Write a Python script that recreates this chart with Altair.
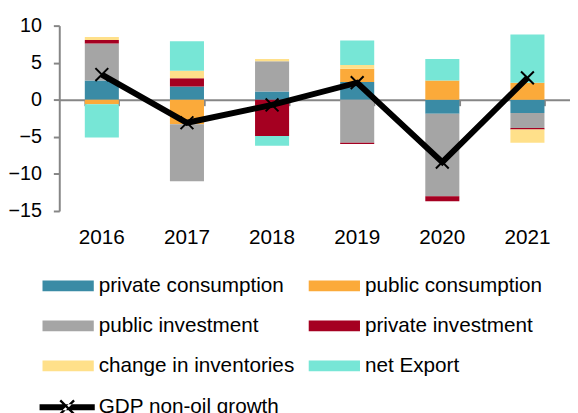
import altair as alt
import pandas as pd

years = ["2016", "2017", "2018", "2019", "2020", "2021"]
series_names = ["private consumption", "public consumption", "public investment",
                "private investment", "change in inventories", "net Export"]
private_consumption = [2.6, 1.8, 1.1, 2.4, -1.9, -1.8]
public_consumption = [-0.6, -3.3, 0.0, 1.8, 2.6, 2.3]
public_investment = [5.0, -7.7, 4.1, -5.8, -11.1, -2.0]
private_investment = [0.45, 1.1, -4.9, -0.15, -0.7, -0.2]
change_inventories = [0.4, 1.0, 0.3, 0.5, 0.0, -1.8]
net_export = [-4.5, 4.0, -1.3, 3.3, 2.9, 6.5]
gdp_growth = [3.4, -3.1, -0.7, 2.3, -8.4, 2.95]
colors = ["#3A8BA5", "#FBAA3A", "#A5A5A5", "#A50021", "#FFE08A", "#77E6D6"]

all_values = [private_consumption, public_consumption, public_investment,
              private_investment, change_inventories, net_export]
rows = []
for i, (name, vals) in enumerate(zip(series_names, all_values)):
    for yr, v in zip(years, vals):
        rows.append({"year": yr, "series": name, "value": v, "order": i})
df = pd.DataFrame(rows)
gdp_df = pd.DataFrame({"year": years, "value": gdp_growth,
                       "series": ["GDP non-oil growth"] * len(years)})

FONT = "Liberation Sans"
GRAY = "#868686"
H = 188
zero_from_bottom = H * 15 / 25

x_scale = alt.Scale(paddingInner=0.6, paddingOuter=0.3)
y_scale = alt.Scale(domain=[-15, 10], nice=False, zero=False)
y_axis = alt.Axis(title=None, values=[-15, -10, -5, 0, 5, 10], grid=False,
                  domainColor=GRAY, domainWidth=2, tickColor=GRAY, tickWidth=2,
                  tickSize=6, labelFontSize=20, labelPadding=12,
                  labelColor="black", labelFont=FONT)

bars = alt.Chart(df).mark_bar().encode(
    x=alt.X("year:N", sort=years, scale=x_scale,
            axis=alt.Axis(title=None, domain=False, ticks=False, labelAngle=0,
                          labelFontSize=21, labelPadding=16, labelColor="black",
                          labelFont=FONT, orient="bottom")),
    y=alt.Y("value:Q", stack="zero", scale=y_scale, axis=y_axis),
    fill=alt.Fill("series:N", scale=alt.Scale(domain=series_names, range=colors),
                  legend=alt.Legend(title=None, orient="none", legendX=-17, legendY=238,
                                    direction="horizontal", columns=2,
                                    symbolType="M-1,-0.21H1V0.21H-1Z", symbolSize=2704,
                                    symbolStrokeWidth=0, columnPadding=14, rowPadding=4.5,
                                    labelOffset=5, labelLimit=400)),
    order=alt.Order("order:Q"),
)

line = alt.Chart(gdp_df).mark_line(strokeWidth=6).encode(
    x=alt.X("year:N", sort=years, scale=x_scale,
            axis=alt.Axis(title=None, labels=False, domain=True, domainColor=GRAY,
                          domainWidth=2, ticks=True, tickColor=GRAY, tickWidth=2,
                          tickSize=6, tickBand="extent", orient="bottom",
                          offset=-zero_from_bottom)),
    y=alt.Y("value:Q", scale=y_scale, axis=y_axis),
    stroke=alt.Stroke("series:N", scale=alt.Scale(range=["black"]),
                      legend=alt.Legend(title=None, orient="none", legendX=-20, legendY=359,
                                        symbolType="M-1,-0.107H1V0.107H-1ZM-0.28,-0.22L-0.22,-0.28L0.28,0.22L0.22,0.28ZM-0.28,0.22L-0.22,0.28L0.28,-0.22L0.22,-0.28Z",
                                        symbolSize=3136, symbolFillColor="black",
                                        symbolStrokeWidth=0, labelOffset=4, labelLimit=400)),
)

points = alt.Chart(gdp_df).mark_point(shape="M-1,-1L1,1M-1,1L1,-1", size=169,
                                      stroke="black", strokeWidth=2, filled=False,
                                      opacity=1).encode(
    x=alt.X("year:N", sort=years, scale=x_scale, axis=None),
    y=alt.Y("value:Q", scale=y_scale, axis=y_axis),
)

chart = alt.layer(bars, line, points).resolve_axis(x="independent").properties(
    width=518, height=H, autosize="none",
    padding={"left": 52, "top": 15, "right": 0, "bottom": 202},
).configure_view(stroke=None).configure_legend(
    labelFont=FONT, labelFontSize=21, labelColor="black"
)

chart.save("out.html", embed_options={"renderer": "svg", "actions": False})
